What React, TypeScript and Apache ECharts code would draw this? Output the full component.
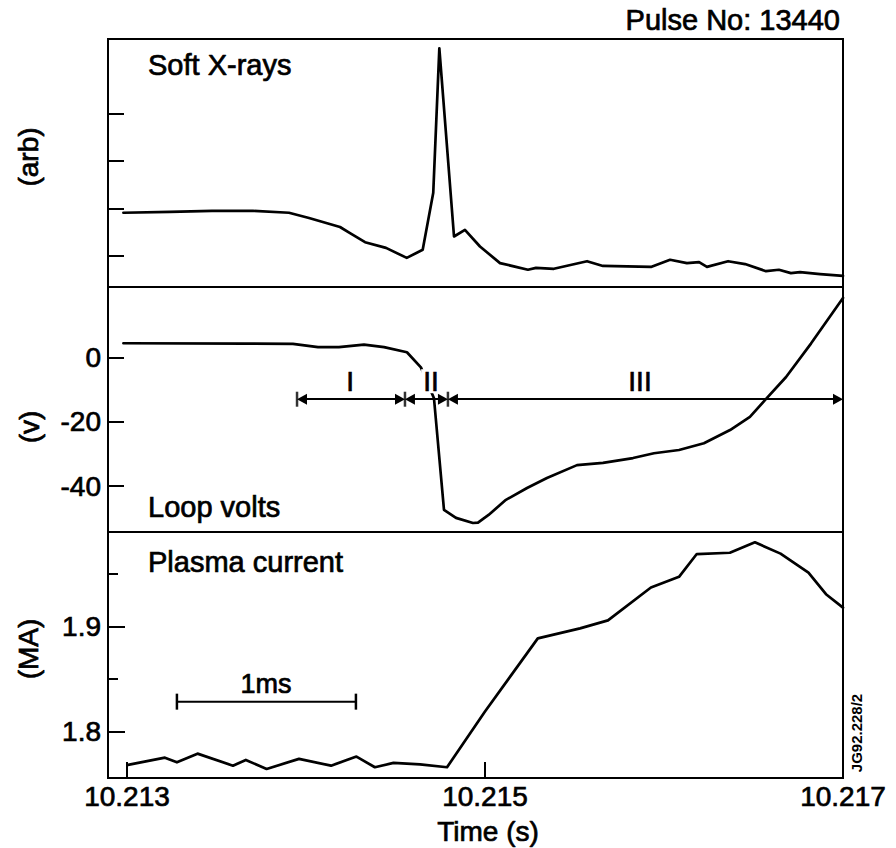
import React, { useEffect, useRef } from 'react';
import * as echarts from 'echarts';

// ---------- data ----------
const xTicks = [10.213, 10.215, 10.217];
const X_MIN = 10.212894;
const X_MAX = 10.217;

// Soft X-rays (arb)
const sxrTime = [10.21298, 10.21324, 10.213475, 10.213704, 10.213905, 10.214017, 10.21419, 10.214246, 10.21433, 10.214447, 10.214563, 10.214652, 10.214711, 10.214745, 10.214827, 10.214888, 10.214972, 10.215084, 10.21524, 10.215285, 10.215385, 10.21557, 10.215659, 10.215927, 10.216034, 10.216128, 10.216196, 10.21624, 10.216358, 10.216453, 10.21657, 10.216642, 10.216709, 10.21676, 10.216872, 10.217];
const sxrValue = [1.91, 1.93, 1.95, 1.95, 1.91, 1.80, 1.61, 1.48, 1.29, 1.17, 0.96, 1.13, 2.33, 5.37, 1.41, 1.55, 1.20, 0.85, 0.71, 0.75, 0.73, 0.89, 0.79, 0.77, 0.92, 0.85, 0.87, 0.77, 0.89, 0.83, 0.68, 0.71, 0.64, 0.66, 0.62, 0.58];
const sxrTicks = [1, 2, 3, 4];
const SXR_MIN = 0.347;
const SXR_MAX = 5.568;

// Loop volts (V)
const voltTime = [10.21298, 10.213659, 10.213927, 10.214067, 10.214184, 10.214324, 10.214436, 10.214564, 10.214642, 10.214715, 10.214771, 10.214838, 10.214933, 10.214961, 10.21502, 10.215117, 10.215235, 10.215346, 10.215514, 10.215659, 10.215827, 10.215944, 10.216084, 10.216223, 10.216369, 10.21648, 10.216564, 10.216682, 10.216821, 10.217];
const voltValue = [4.4, 4.3, 4.2, 3.2, 3.2, 4.0, 3.2, 1.6, -3.1, -12.7, -47.4, -49.9, -51.5, -51.4, -49.0, -44.3, -40.6, -37.5, -33.5, -32.8, -31.3, -29.8, -28.8, -26.7, -22.6, -18.5, -13.3, -6.1, 4.3, 18.5];
const voltTicks = [0, -20, -40];
const VOLT_MIN = -54.3;
const VOLT_MAX = 21.9;

// Plasma current (MA)
const ipTime = [10.213006, 10.213212, 10.213279, 10.213394, 10.213592, 10.213664, 10.21378, 10.213961, 10.21414, 10.214282, 10.214385, 10.214489, 10.214637, 10.214788, 10.215, 10.215295, 10.215531, 10.215687, 10.215927, 10.216084, 10.216183, 10.216368, 10.216508, 10.216651, 10.216807, 10.216905, 10.217];
const ipValue = [1.7686, 1.7755, 1.7711, 1.7793, 1.7679, 1.7733, 1.7648, 1.7743, 1.7679, 1.7765, 1.7664, 1.7705, 1.7692, 1.7664, 1.8193, 1.8886, 1.8981, 1.9057, 1.9369, 1.947, 1.9686, 1.9698, 1.9797, 1.969, 1.951, 1.9305, 1.9178];
const ipMajorTicks = [1.8, 1.9];
const ipMinorTicks = [1.85, 1.95];
const IP_MIN = 1.7562;
const IP_MAX = 1.9895;

// Phases I, II, III
const phaseBounds = [10.21395, 10.214553, 10.214793, 10.217];
const phaseNames = ['I', 'II', 'III'];
const phaseLabelTime = [10.214246, 10.214698, 10.215866];
const phaseArrowLevel = -13;
const phaseLabelLevel = -7.4;

// 1 ms scale bar
const scaleBarTime = [10.213279, 10.214279];
const scaleBarLevel = 1.8286;

// ---------- styling ----------
const FONT = '"Liberation Sans", Arial, Helvetica, sans-serif';
const BLACK = '#000';
const ARROW_HALF = 0.0000279;
const TEXT_STROKE = 0.7;

const grids = [
  { left: 108, top: 39, width: 735, height: 248 },
  { left: 108, top: 287, width: 735, height: 245 },
  { left: 108, top: 532, width: 735, height: 246 },
];

function xAxisFor(i: number, show: boolean) {
  return {
    type: 'value',
    gridIndex: i,
    min: X_MIN,
    max: X_MAX,
    axisLine: { show: false },
    splitLine: { show: false },
    axisTick: {
      show,
      inside: true,
      length: 16,
      customValues: xTicks,
      lineStyle: { color: BLACK, width: 2 },
    },
    axisLabel: {
      show,
      customValues: xTicks,
      formatter: (v: number) => Number(v).toFixed(3),
      color: BLACK,
      fontSize: 28,
      fontFamily: FONT,
      margin: 18,
      verticalAlign: 'middle',
      textBorderColor: BLACK,
      textBorderWidth: TEXT_STROKE,
    },
  };
}

function yAxisFor(
  gridIndex: number,
  min: number,
  max: number,
  ticks: number[],
  tickLen: number,
  labels: number[] | null,
  fmt: (v: number) => string
) {
  return {
    type: 'value',
    gridIndex,
    min,
    max,
    position: 'left',
    axisLine: { show: false },
    splitLine: { show: false },
    axisTick: {
      show: true,
      inside: true,
      length: tickLen,
      customValues: ticks,
      lineStyle: { color: BLACK, width: 2 },
    },
    axisLabel: labels
      ? {
          show: true,
          customValues: labels,
          formatter: fmt,
          color: BLACK,
          fontSize: 28,
          fontFamily: FONT,
          margin: 7,
          textBorderColor: BLACK,
          textBorderWidth: TEXT_STROKE,
        }
      : { show: false },
  };
}

function text(t: string, x: number, y: number, size: number, align: string, extra: any = {}, weight = 'normal', styleExtra: any = {}) {
  return {
    type: 'text',
    x,
    y,
    silent: true,
    z: 100,
    ...extra,
    style: {
      text: t,
      font: `${weight} ${size}px ${FONT}`,
      fill: BLACK,
      stroke: BLACK,
      lineWidth: weight === 'bold' ? 0 : TEXT_STROKE,
      align,
      verticalAlign: 'middle',
      ...styleExtra,
    },
  };
}

export default function App() {
  const ref = useRef<HTMLDivElement>(null);

  useEffect(() => {
    if (!ref.current) return;
    const chart = echarts.init(ref.current, null, { renderer: 'svg' });

    const lineStyle = { color: BLACK, width: 2.7, join: 'round', cap: 'round' };

    const option: any = {
      animation: false,
      backgroundColor: '#fff',
      grid: grids.map((g) => ({
        ...g,
        show: true,
        borderColor: BLACK,
        borderWidth: 2,
        backgroundColor: 'transparent',
        containLabel: false,
      })),
      xAxis: [xAxisFor(0, false), xAxisFor(1, false), xAxisFor(2, true)],
      yAxis: [
        yAxisFor(0, SXR_MIN, SXR_MAX, sxrTicks, 16, null, (v) => String(v)),
        yAxisFor(1, VOLT_MIN, VOLT_MAX, voltTicks, 16, voltTicks, (v) => String(v)),
        yAxisFor(2, IP_MIN, IP_MAX, ipMajorTicks, 17, ipMajorTicks, (v) => Number(v).toFixed(1)),
        yAxisFor(2, IP_MIN, IP_MAX, ipMinorTicks, 10, null, (v) => String(v)),
      ],
      series: [
        {
          type: 'line',
          xAxisIndex: 0,
          yAxisIndex: 0,
          data: sxrTime.map((t, i) => [t, sxrValue[i]]),
          symbol: 'none',
          lineStyle,
          silent: true,
        },
        {
          type: 'line',
          xAxisIndex: 1,
          yAxisIndex: 1,
          data: voltTime.map((t, i) => [t, voltValue[i]]),
          symbol: 'none',
          lineStyle,
          silent: true,
          markLine: {
            silent: true,
            symbol: ['triangle', 'triangle'],
            symbolSize: [11, 10],
            lineStyle: { color: BLACK, width: 2, type: 'solid' },
            itemStyle: { color: BLACK },
            label: { show: false },
            emphasis: { disabled: true },
            data: phaseNames.map((_, i) => [
              { coord: [phaseBounds[i] + ARROW_HALF, phaseArrowLevel] },
              { coord: [phaseBounds[i + 1] - ARROW_HALF, phaseArrowLevel] },
            ]),
          },
        },
        {
          type: 'scatter',
          xAxisIndex: 1,
          yAxisIndex: 1,
          data: phaseBounds.slice(0, 3).map((t) => [t, phaseArrowLevel]),
          symbol: 'rect',
          symbolSize: [2.5, 15],
          itemStyle: { color: BLACK },
          silent: true,
          z: 6,
        },
        {
          type: 'line',
          xAxisIndex: 2,
          yAxisIndex: 2,
          data: ipTime.map((t, i) => [t, ipValue[i]]),
          symbol: 'none',
          lineStyle,
          silent: true,
        },
        {
          type: 'line',
          xAxisIndex: 2,
          yAxisIndex: 2,
          data: scaleBarTime.map((t) => [t, scaleBarLevel]),
          symbol: 'rect',
          symbolSize: [2.5, 16],
          showSymbol: true,
          itemStyle: { color: BLACK },
          lineStyle: { color: BLACK, width: 2 },
          silent: true,
        },
      ],
    };

    chart.setOption(option);

    const phaseLabels = phaseNames.map((n, i) => {
      const p = chart.convertToPixel({ xAxisIndex: 1, yAxisIndex: 1 }, [phaseLabelTime[i], phaseLabelLevel]) as number[];
      return text(n, p[0], p[1], 28, 'center', {}, 'normal', {
        backgroundColor: '#fff',
        padding: [0, 2],
        lineHeight: 24,
      });
    });

    chart.setOption({
      graphic: [
        text('Pulse No: 13440', 840, 20, 29, 'right'),
        text('Soft X-rays', 148, 65, 29, 'left'),
        text('Loop volts', 148, 507, 29, 'left'),
        text('Plasma current', 148, 562, 29, 'left'),
        text('1ms', 266, 684, 27, 'center'),
        text('Time (s)', 488, 831, 28, 'center'),
        text('(arb)', 28, 157, 28, 'center', { rotation: Math.PI / 2 }),
        text('(v)', 29, 427, 28, 'center', { rotation: Math.PI / 2 }),
        text('(MA)', 28, 649, 28, 'center', { rotation: Math.PI / 2 }),
        text('JG92.228/2', 856, 733, 15, 'center', { rotation: Math.PI / 2 }, 'bold'),
        ...phaseLabels,
      ],
    });

    return () => chart.dispose();
  }, []);

  return (
    <div
      ref={ref}
      style={{ position: 'absolute', left: 0, top: 0, width: 896, height: 848, background: '#fff' }}
    />
  );
}
